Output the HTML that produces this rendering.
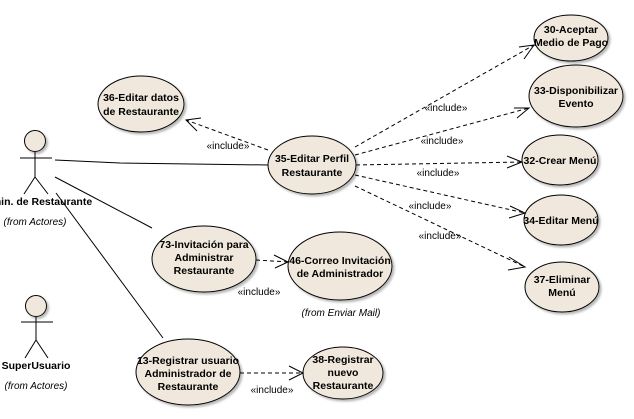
<!DOCTYPE html>
<html><head><style>
html,body{margin:0;padding:0;background:#fff;}
svg{display:block;}
text{font-family:"Liberation Sans",Arial,sans-serif;}
.u{font-size:10.5px;font-weight:bold;fill:#000;text-anchor:middle;}
.i{font-size:10px;fill:#000;text-anchor:middle;}
.f{font-size:10px;font-style:italic;fill:#000;text-anchor:middle;}
</style></head><body>
<svg width="634" height="419" viewBox="0 0 634 419" xmlns="http://www.w3.org/2000/svg">
<defs>
<filter id="sh" x="-20%" y="-20%" width="150%" height="150%"><feDropShadow dx="2" dy="2" stdDeviation="1" flood-color="#999" flood-opacity="0.7"/></filter>
</defs>
<g fill="#f0e8dc" stroke="#000" stroke-width="1" filter="url(#sh)">
<ellipse cx="141" cy="104" rx="43" ry="28"/>
<ellipse cx="312" cy="165" rx="44" ry="29"/>
<ellipse cx="571" cy="38" rx="37" ry="23"/>
<ellipse cx="576" cy="96" rx="47" ry="31"/>
<ellipse cx="560" cy="160" rx="38" ry="25"/>
<ellipse cx="561" cy="220" rx="37" ry="25"/>
<ellipse cx="562" cy="287" rx="37" ry="25"/>
<ellipse cx="204" cy="259" rx="52" ry="33"/>
<ellipse cx="340" cy="266" rx="52" ry="34"/>
<ellipse cx="188" cy="372" rx="52" ry="33"/>
<ellipse cx="343" cy="373" rx="40" ry="26"/>
<circle cx="35" cy="141" r="10.5"/>
<circle cx="36" cy="306" r="10.5"/>
</g>
<g stroke="#000" stroke-width="1" fill="none">
<line x1="20" y1="158" x2="52" y2="158"/><line x1="35" y1="152" x2="35" y2="177"/>
<line x1="35" y1="177" x2="24" y2="194"/><line x1="35" y1="177" x2="48" y2="194"/>
<line x1="21" y1="322" x2="53" y2="322"/><line x1="36" y1="317" x2="36" y2="340"/>
<line x1="36" y1="340" x2="25" y2="358"/><line x1="36" y1="340" x2="48" y2="358"/>
<polyline points="55,160 120,163 268,165"/>
<line x1="55" y1="177" x2="152" y2="228"/>
<line x1="56" y1="193" x2="163" y2="338"/>
</g>
<g stroke="#000" stroke-width="1" fill="none" stroke-dasharray="4,3">
<line x1="268" y1="150" x2="186" y2="120"/>
<line x1="355" y1="147" x2="534" y2="45"/>
<line x1="355" y1="155" x2="529" y2="108"/>
<line x1="356" y1="165" x2="522" y2="162"/>
<line x1="355" y1="175" x2="525" y2="213"/>
<line x1="355" y1="186" x2="525" y2="267"/>
<line x1="256" y1="260" x2="288" y2="262"/>
<line x1="240" y1="373" x2="303" y2="373"/>
</g>
<g stroke="#000" stroke-width="1" fill="none">
<polyline points="201,118 186,120 197,131"/>
<polyline points="519,47 534,45 524,59"/>
<polyline points="514,108 529,108 517,118"/>
<polyline points="507,156 522,162 507,168"/>
<polyline points="510,206 525,213 509,218"/>
<polyline points="509,257 525,267 508,270"/>
<polyline points="274,255 288,262 275,268"/>
<polyline points="289,366 303,373 289,380"/>
</g>
<g class="u">
<text x="141" y="101">36-Editar datos</text><text x="141" y="115">de Restaurante</text>
<text x="312" y="162">35-Editar Perfil</text><text x="312" y="176">Restaurante</text>
<text x="571" y="33">30-Aceptar</text><text x="571" y="46">Medio de Pago</text>
<text x="576" y="94">33-Disponibilizar</text><text x="576" y="107">Evento</text>
<text x="560" y="164">32-Crear Menú</text>
<text x="561" y="224">34-Editar Menú</text>
<text x="562" y="283">37-Eliminar</text><text x="562" y="296">Menú</text>
<text x="204" y="248">73-Invitación para</text><text x="204" y="261">Administrar</text><text x="204" y="274">Restaurante</text>
<text x="340" y="264">46-Correo Invitación</text><text x="340" y="277">de Administrador</text>
<text x="188" y="364">13-Registrar usuario</text><text x="188" y="377">Administrador de</text><text x="188" y="390">Restaurante</text>
<text x="343" y="363">38-Registrar</text><text x="343" y="376">nuevo</text><text x="343" y="389">Restaurante</text>
<text x="35" y="205">Admin. de Restaurante</text>
<text x="36" y="369">SuperUsuario</text>
</g>
<g class="i">
<text x="228" y="149">«include»</text>
<text x="446" y="111">«include»</text>
<text x="442" y="144">«include»</text>
<text x="438" y="176">«include»</text>
<text x="430" y="209">«include»</text>
<text x="440" y="239">«include»</text>
<text x="259" y="295">«include»</text>
<text x="272" y="393">«include»</text>
</g>
<g class="f">
<text x="35" y="225">(from Actores)</text>
<text x="36" y="389">(from Actores)</text>
<text x="341" y="316">(from Enviar Mail)</text>
</g>
</svg>
</body></html>
